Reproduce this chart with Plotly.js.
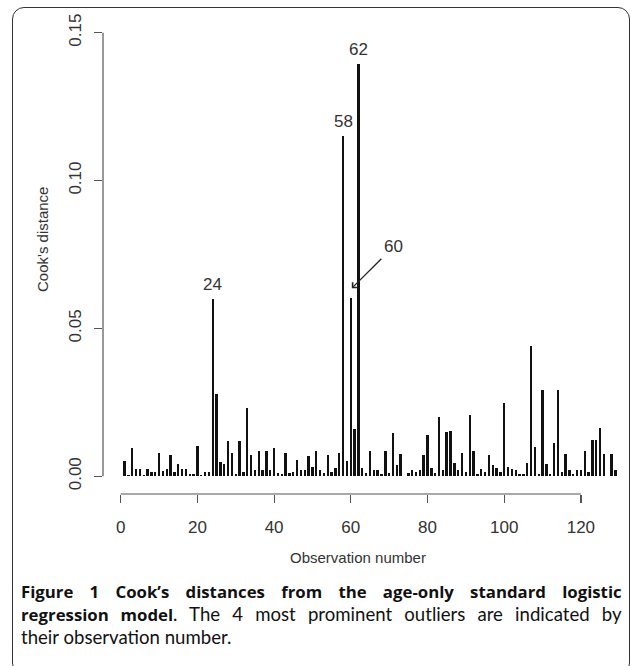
<!DOCTYPE html>
<html>
<head>
<meta charset="utf-8">
<script src="https://cdn.plot.ly/plotly-3.0.1.min.js"></script>
<style>
  html, body { margin: 0; padding: 0; background: #fff; }
  #wrap { position: relative; width: 633px; height: 666px; overflow: hidden; }
  #frame { position: absolute; left: 12px; top: 7px; width: 618px; height: 668px;
           border: 1.5px solid #333; border-radius: 12px; box-sizing: border-box; pointer-events: none; }
  #chart { position: absolute; left: 0; top: 0; width: 633px; height: 666px; }
</style>
</head>
<body>
<div id="wrap">
  <div id="chart"></div>
  <div id="frame"></div>
</div>
<script>
// Cook's distance for each observation (1..129)
const cooksDistance = [
  0.0052, 0.0004, 0.0097, 0.0024, 0.0026, 0.0005, 0.0026, 0.0014, 0.0014, 0.0078,
  0.0019, 0.0024, 0.0071, 0.0013, 0.0040, 0.0026, 0.0024, 0.0008, 0.0006, 0.0104,
  0.0005, 0.0014, 0.0014, 0.0600, 0.0277, 0.0049, 0.0040, 0.0118, 0.0080, 0.0007,
  0.0119, 0.0013, 0.0231, 0.0071, 0.0020, 0.0085, 0.0020, 0.0085, 0.0020, 0.0095,
  0.0011, 0.0007, 0.0080, 0.0011, 0.0016, 0.0055, 0.0020, 0.0020, 0.0069, 0.0031,
  0.0086, 0.0022, 0.0011, 0.0071, 0.0013, 0.0029, 0.0078, 0.1152, 0.0052, 0.0602,
  0.0159, 0.1395, 0.0029, 0.0011, 0.0085, 0.0020, 0.0020, 0.0007, 0.0085, 0.0011,
  0.0148, 0.0039, 0.0076, 0.0002, 0.0011, 0.0020, 0.0013, 0.0020, 0.0073, 0.0139,
  0.0029, 0.0011, 0.0201, 0.0022, 0.0150, 0.0154, 0.0045, 0.0022, 0.0078, 0.0013,
  0.0208, 0.0084, 0.0008, 0.0024, 0.0016, 0.0071, 0.0039, 0.0029, 0.0016, 0.0249,
  0.0033, 0.0026, 0.0022, 0.0008, 0.0008, 0.0045, 0.0440, 0.0100, 0.0008, 0.0291,
  0.0042, 0.0008, 0.0112, 0.0293, 0.0013, 0.0076, 0.0020, 0.0006, 0.0020, 0.0020,
  0.0084, 0.0013, 0.0123, 0.0121, 0.0162, 0.0076, 0.0002, 0.0074, 0.0022
];
const observation = cooksDistance.map((_, i) => i + 1);

const xTickVals = [0, 20, 40, 60, 80, 100, 120];
const xTickText = ["0", "20", "40", "60", "80", "100", "120"];
const yTickVals = [0, 0.05, 0.10, 0.15];
const yTickText = ["0.00", "0.05", "0.10", "0.15"];

const labelledOutliers = [24, 58, 62];   // labelled directly above the bar
const arrowOutlier = 60;                 // labelled with an arrow

const xLabel = "Observation number";
const yLabel = "Cook's distance";
const boldOpen = "<span style=\"font-family:'Open Sans';font-weight:bold;font-size:16.8px\">";
const captionLines = [
  boldOpen + "Figure 1 Cook’s distances from the age-only standard logistic</span>",
  boldOpen + "regression model</span>. The 4 most prominent outliers are indicated by",
  "their observation number."
];
const captionJustified = [true, true, false];

// ---- layout geometry (pixels) ----
const W = 633, H = 666;
const M = { l: 103, r: 8, t: 15, b: 172 };
const plotW = W - M.l - M.r, plotH = H - M.t - M.b;
const px = x => (x - M.l) / plotW;               // pixel -> paper x
const py = y => (H - M.b - y) / plotH;           // pixel -> paper y

const axisGrey = "#555";
const textCol = "#333";
const plotFont = "Liberation Sans, Arial, sans-serif";

const trace = {
  type: "bar",
  x: observation,
  y: cooksDistance,
  width: 0.62,
  marker: { color: "#111", line: { width: 0 } },
  hoverinfo: "x+y"
};

const annotations = [];
labelledOutliers.forEach(o => {
  annotations.push({
    x: o, y: cooksDistance[o - 1], xref: "x", yref: "y",
    text: String(o), showarrow: false, xanchor: "center", yanchor: "middle",
    yshift: 14, font: { family: plotFont, size: 17, color: textCol }
  });
});
annotations.push({
  x: arrowOutlier, y: cooksDistance[arrowOutlier - 1], xref: "x", yref: "y",
  text: String(arrowOutlier), showarrow: true, arrowhead: 4, arrowsize: 1.1,
  arrowwidth: 1.3, arrowcolor: "#222", ax: 42, ay: -42, yshift: 10, xshift: 1,
  standoff: 0, startstandoff: 2,
  font: { family: plotFont, size: 17, color: textCol }
});
// axis titles
annotations.push({
  xref: "paper", yref: "paper", x: px(358), y: py(557), text: xLabel,
  showarrow: false, xanchor: "center", yanchor: "middle",
  font: { family: plotFont, size: 15, color: textCol }
});
annotations.push({
  xref: "paper", yref: "paper", x: px(42), y: py(240), text: yLabel, textangle: -90,
  showarrow: false, xanchor: "center", yanchor: "middle",
  font: { family: plotFont, size: 15, color: textCol }
});
// caption
const capStart = annotations.length;
const capY = [591, 614, 637];
captionLines.forEach((t, i) => {
  annotations.push({
    xref: "paper", yref: "paper", x: px(19), y: py(capY[i]), text: t,
    showarrow: false, xanchor: "left", yanchor: "middle", align: "left",
    font: { family: "Lato, 'Open Sans', sans-serif", size: 18.6, color: "#111" }
  });
});

const layout = {
  width: W, height: H,
  margin: M,
  paper_bgcolor: "#fff", plot_bgcolor: "#fff",
  showlegend: false,
  bargap: 0,
  xaxis: {
    range: [(M.l - 120.7) / 3.835, (W - M.r - 120.7) / 3.835],
    tickvals: xTickVals, ticktext: xTickText,
    ticks: "outside", ticklen: 8, tickwidth: 1.2, tickcolor: axisGrey,
    ticklabelstandoff: 10,
    showline: false, showgrid: false, zeroline: false,
    tickfont: { family: plotFont, size: 17, color: textCol }
  },
  yaxis: {
    range: [-0.006, 0.156],
    tickvals: yTickVals, ticktext: yTickText, tickangle: -90,
    ticks: "outside", ticklen: 8, tickwidth: 1.2, tickcolor: axisGrey,
    ticklabelstandoff: 6,
    showline: false, showgrid: false, zeroline: false,
    tickfont: { family: plotFont, size: 17, color: textCol }
  },
  shapes: [
    { type: "line", xref: "x", yref: "paper", x0: xTickVals[0], x1: xTickVals[xTickVals.length - 1],
      y0: 0, y1: 0, line: { color: axisGrey, width: 1.2 } },
    { type: "line", xref: "paper", yref: "y", x0: 0, x1: 0,
      y0: yTickVals[0], y1: yTickVals[yTickVals.length - 1], line: { color: axisGrey, width: 1.2 } }
  ],
  annotations: annotations
};

Plotly.newPlot("chart", [trace], layout, { displayModeBar: false, staticPlot: true }).then(gd => {
  // justify the caption lines like the journal typesetting (word spacing only)
  const targetRight = 622;
  const rootBox = gd.getBoundingClientRect();
  captionLines.forEach((_, i) => {
    if (!captionJustified[i]) return;
    const g = gd.querySelector('g.annotation[data-index="' + (capStart + i) + '"]');
    if (!g) return;
    const t = g.querySelector('text.annotation-text');
    if (!t) return;
    const b0 = t.getBoundingClientRect();
    const spaces = (t.textContent.match(/ /g) || []).length;
    const extra = (targetRight - (b0.right - rootBox.left)) / spaces;
    t.style.wordSpacing = extra + 'px';
    const b1 = t.getBoundingClientRect();
    const dx = b0.left - b1.left;
    if (Math.abs(dx) > 0.1) {
      t.setAttribute('x', parseFloat(t.getAttribute('x') || 0) + dx);
      const b2 = t.getBoundingClientRect();
      const extra2 = (targetRight - (b2.right - rootBox.left)) / spaces;
      const cur = parseFloat(t.style.wordSpacing) || 0;
      t.style.wordSpacing = (cur + extra2) + 'px';
      const b3 = t.getBoundingClientRect();
      t.setAttribute('x', parseFloat(t.getAttribute('x')) + (b0.left - b3.left));
    }
  });
});
</script>
</body>
</html>
